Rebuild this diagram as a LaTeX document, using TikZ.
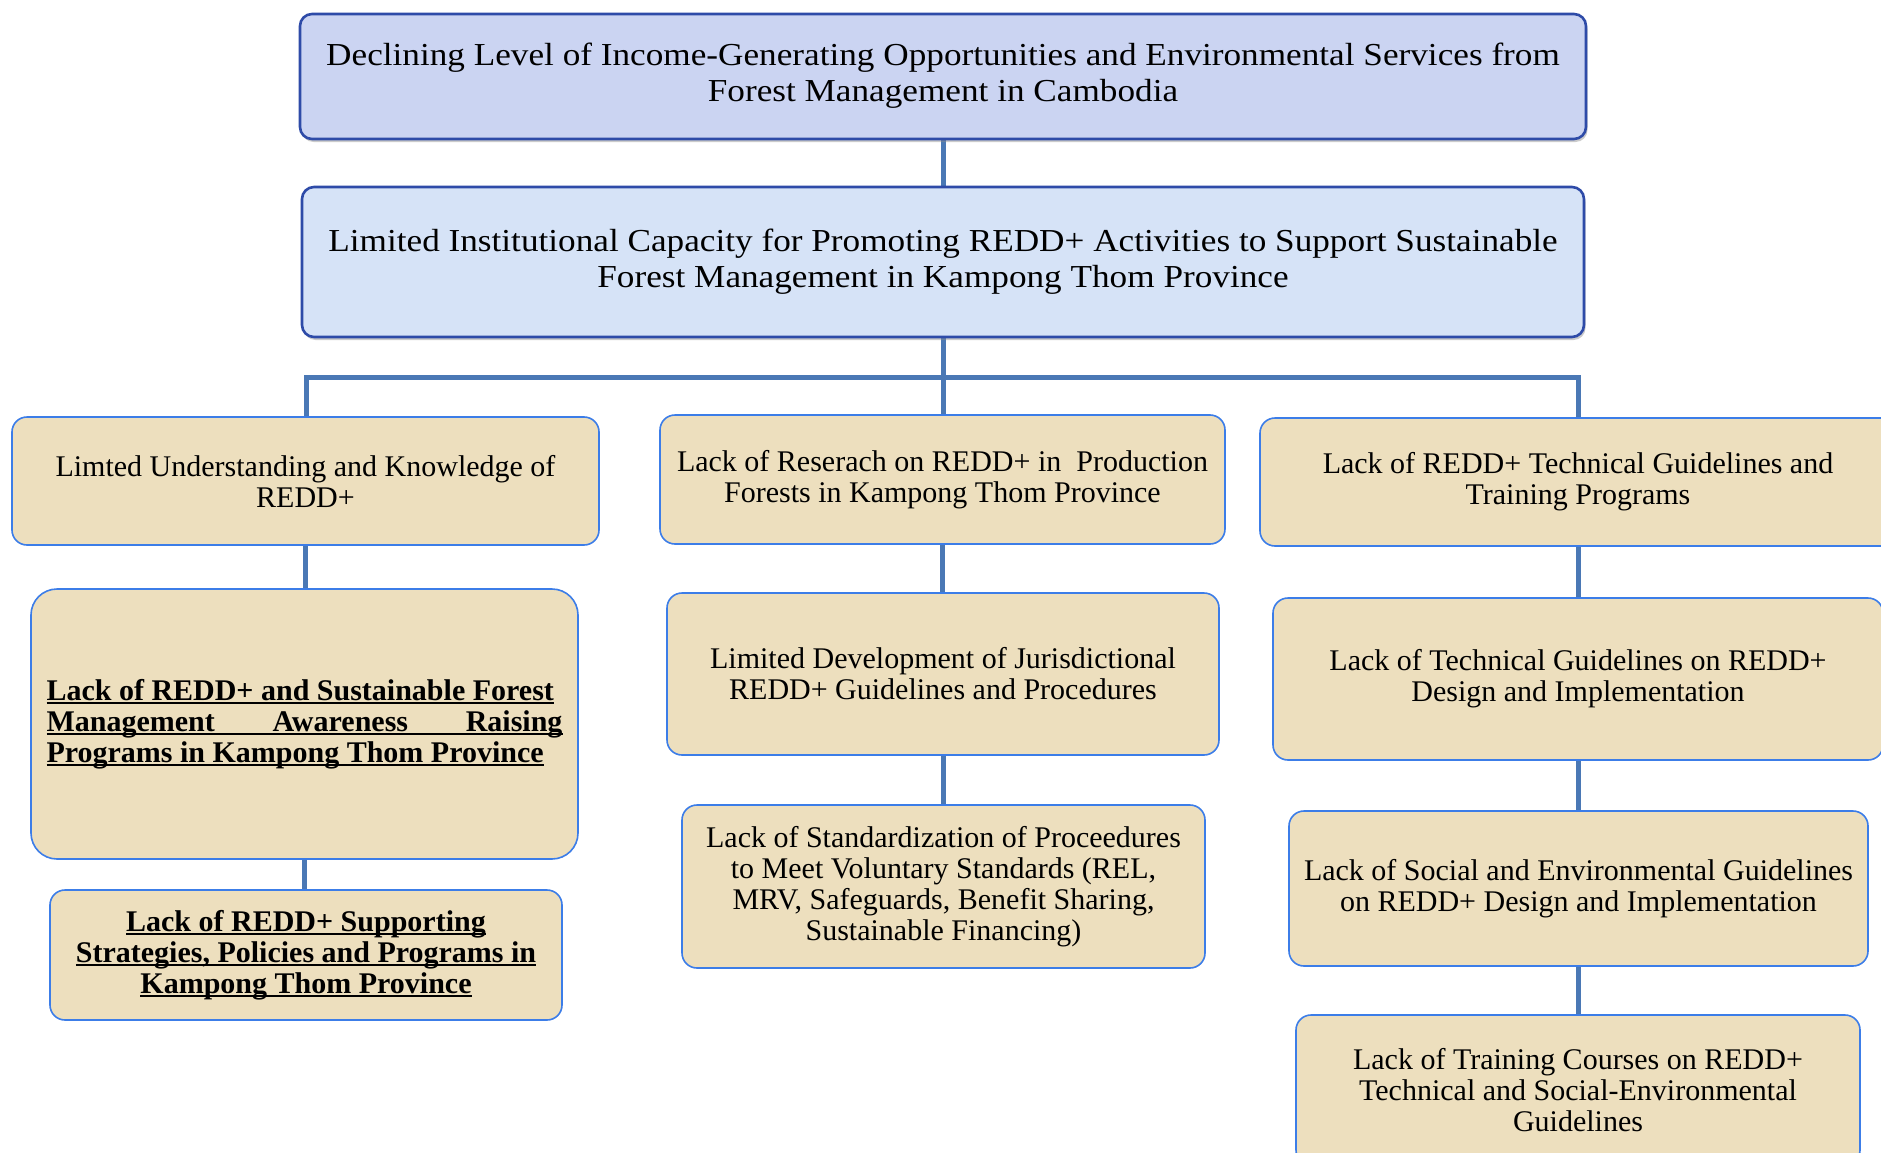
\documentclass[tikz,border=0pt]{standalone}
\usepackage{fontspec}
\setmainfont{Liberation Serif}
\usetikzlibrary{shadows}
\newcommand\myul[1]{\setbox0\hbox{#1}\rlap{\rule[-3.6pt]{\wd0}{1.8pt}}\box0}
\definecolor{tanfill}{RGB}{237,223,190}
\definecolor{tanline}{RGB}{60,125,232}
\definecolor{topfillA}{RGB}{203,212,242}
\definecolor{topfillB}{RGB}{214,227,247}
\definecolor{topline}{RGB}{46,75,168}
\definecolor{connc}{RGB}{74,120,181}
\tikzset{
  tanbox/.style={draw=tanline, line width=1.6pt, fill=tanfill, rounded corners=15pt,
    align=center, inner sep=0pt, font=\fontsize{30}{31}\selectfont},
  topbox/.style={draw=topline, line width=2.6pt, rounded corners=12pt, align=center,
    inner sep=0pt, font=\fontsize{32}{36}\selectfont,
    drop shadow={shadow xshift=1.5pt, shadow yshift=-3pt, fill=black!45, opacity=.45}},
  conn/.style={draw=connc, line width=5pt}
}
\begin{document}
\begin{tikzpicture}[x=1pt,y=-1pt]
\useasboundingbox (0,0) rectangle (1881,1153);
\clip (0,0) rectangle (1881,1153);
\fill[white] (0,0) rectangle (1881,1153);
% connectors (drawn first, under boxes)
\coordinate (bar) at (943,377);
\coordinate (t1s) at (943,139);
\coordinate (t2n) at (943,187);
\coordinate (t2s) at (943,337);
\coordinate (l1n) at (306,418);
\coordinate (m1n) at (943,415);
\coordinate (r1n) at (1578,418);
\draw[conn] (t1s) -- (t2n);
\draw[conn] (t2s) -- (m1n);
\draw[conn] (l1n) |- (bar) -| (r1n);
% top boxes
\node[topbox, fill=topfillA, minimum width=1286pt, minimum height=125pt] (T1) at (943,76.5)
 {\scalebox{1.1}[1]{\begin{tabular}{@{}c@{}}Declining Level of Income-Generating Opportunities and Environmental Services from\\Forest Management in Cambodia\end{tabular}}};
\node[topbox, fill=topfillB, minimum width=1282pt, minimum height=150pt] (T2) at (943,262)
 {\scalebox{1.1}[1]{\begin{tabular}{@{}c@{}}Limited Institutional Capacity for Promoting REDD+ Activities to Support Sustainable\\Forest Management in Kampong Thom Province\end{tabular}}};
% left column
\node[tanbox, minimum width=587pt, minimum height=128pt] (L1) at (305.5,481)
 {Limted Understanding and Knowledge of\\REDD+};
\node[tanbox, rounded corners=26pt, minimum width=547pt, minimum height=270pt, align=left,
  font=\bfseries\fontsize{30}{31}\selectfont] (L2) at (304.5,724)
 {\myul{Lack of REDD+ and Sustainable Forest}\\
  \myul{\hbox to 516pt{Management\hfill Awareness\hfill Raising}}\\
  \myul{Programs in Kampong Thom Province}};
\node[tanbox, minimum width=512pt, minimum height=130pt, font=\bfseries\fontsize{30}{31}\selectfont] (L3) at (306,955)
 {\myul{Lack of REDD+ Supporting}\\\myul{Strategies, Policies and Programs in}\\\myul{Kampong Thom Province}};
% middle column
\node[tanbox, minimum width=565pt, minimum height=129pt] (M1) at (942.5,479.5)
 {Lack of Reserach on REDD+ in\ \ Production\\Forests in Kampong Thom Province};
\node[tanbox, minimum width=552pt, minimum height=162pt] (M2) at (943,674)
 {Limited Development of Jurisdictional\\REDD+ Guidelines and Procedures};
\node[tanbox, minimum width=523pt, minimum height=163pt] (M3) at (943.5,886.5)
 {Lack of Standardization of Proceedures\\to Meet Voluntary Standards (REL,\\MRV, Safeguards, Benefit Sharing,\\Sustainable Financing)};
% right column
\node[tanbox, minimum width=636pt, minimum height=128pt] (R1) at (1578,482)
 {Lack of REDD+ Technical Guidelines and\\Training Programs};
\node[tanbox, minimum width=610pt, minimum height=162pt] (R2) at (1578,679)
 {Lack of Technical Guidelines on REDD+\\Design and Implementation};
\node[tanbox, minimum width=579pt, minimum height=155pt] (R3) at (1578.5,888.5)
 {Lack of Social and Environmental Guidelines\\on REDD+ Design and Implementation};
\node[tanbox, minimum width=564pt, minimum height=150pt] (R4) at (1578,1090)
 {Lack of Training Courses on REDD+\\Technical and Social-Environmental\\Guidelines};
% vertical links between stacked boxes
\draw[conn] (L1.south) -- (L1.south |- L2.north);
\draw[conn] (L2.south) -- (L2.south |- L3.north);
\draw[conn] (M1.south) -- (M1.south |- M2.north);
\draw[conn] (M2.south) -- (M2.south |- M3.north);
\draw[conn] (R1.south) -- (R1.south |- R2.north);
\draw[conn] (R2.south) -- (R2.south |- R3.north);
\draw[conn] (R3.south) -- (R3.south |- R4.north);
\end{tikzpicture}
\end{document}
